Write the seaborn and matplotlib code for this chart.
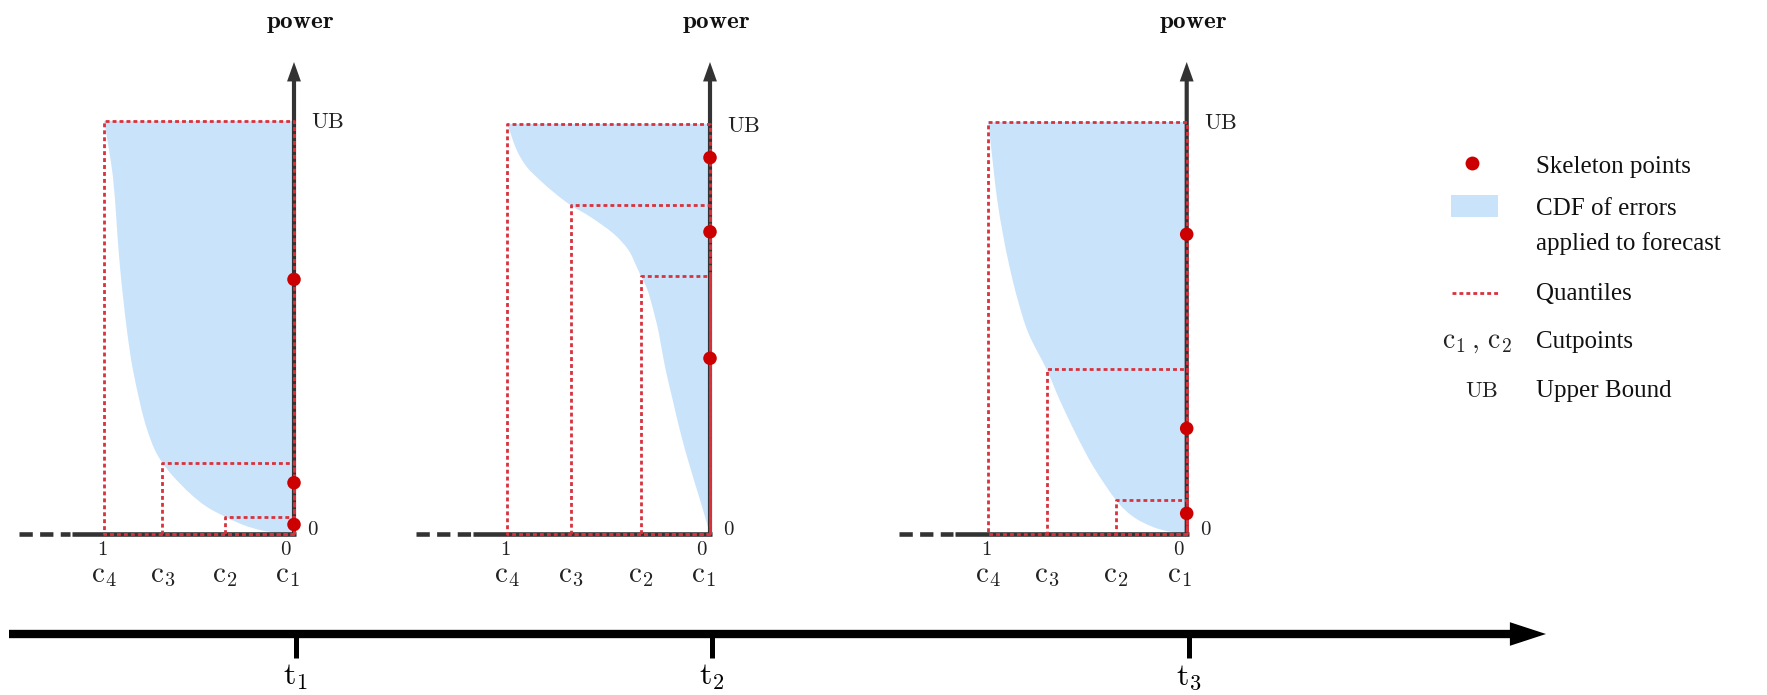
import numpy as np
import pandas as pd
import seaborn as sns
import matplotlib
matplotlib.use("Agg")
import matplotlib.pyplot as plt
from matplotlib.patches import FancyArrowPatch, ArrowStyle, Rectangle, PathPatch
from matplotlib.path import Path
from matplotlib.lines import Line2D
import matplotlib.transforms as mtransforms

sns.set_theme(style="white")
plt.rcParams["font.family"] = ["Liberation Serif", "DejaVu Serif"]
plt.rcParams["mathtext.fontset"] = "cm"

# ---------------- data ----------------
TIME_LABELS = [r"$\mathrm{t}_1$", r"$\mathrm{t}_2$", r"$\mathrm{t}_3$"]
CUT_LABELS = [r"$\mathrm{c}_1$", r"$\mathrm{c}_2$", r"$\mathrm{c}_3$", r"$\mathrm{c}_4$"]

# cutpoint probabilities (c1..c4) and the power level of each quantile
CUT_P1 = [0.0, 0.363, 0.693, 1.0]
CUT_P2 = [0.0, 0.342, 0.687, 1.0]
CUT_P3 = [0.0, 0.356, 0.706, 1.0]
QLEVEL1 = [0.0, 0.042, 0.1725, 1.0]
QLEVEL2 = [0.0, 0.630, 0.802, 1.0]
QLEVEL3 = [0.0, 0.0825, 0.399, 1.0]

# skeleton points (power, as fraction of UB)
SKEL1 = [0.616, 0.124, 0.023]
SKEL2 = [0.918, 0.737, 0.4285]
SKEL3 = [0.727, 0.256, 0.050]

# CDF of errors applied to forecast (probability vs power)
CURVE1_P = [1.0, 0.96, 0.942, 0.93, 0.916, 0.898, 0.877, 0.851, 0.814, 0.793, 0.767,
            0.732, 0.693, 0.635, 0.547, 0.46, 0.363, 0.267, 0.179, 0.074, 0.0]
CURVE1_LEVEL = [1.0, 0.889, 0.808, 0.727, 0.647, 0.566, 0.485, 0.405, 0.324, 0.284, 0.244,
                0.203, 0.1726, 0.139, 0.098, 0.066, 0.042, 0.022, 0.0097, 0.0016, 0.0]
CURVE2_P = [1.0, 0.954, 0.905, 0.839, 0.765, 0.6875, 0.592, 0.477, 0.403, 0.362, 0.342,
            0.312, 0.290, 0.270, 0.252, 0.222, 0.184, 0.145, 0.099, 0.049, 0.020, 0.0]
CURVE2_LEVEL = [1.0, 0.937, 0.896, 0.863, 0.831, 0.802, 0.774, 0.733, 0.693, 0.652, 0.630,
                0.600, 0.565, 0.527, 0.489, 0.408, 0.327, 0.246, 0.164, 0.083, 0.034, 0.0]
CURVE3_P = [1.0, 0.975, 0.955, 0.927, 0.893, 0.851, 0.797, 0.706, 0.640, 0.560, 0.470,
            0.356, 0.270, 0.175, 0.090, 0.0]
CURVE3_LEVEL = [1.0, 0.891, 0.810, 0.729, 0.648, 0.567, 0.486, 0.399, 0.325, 0.244, 0.163,
                0.082, 0.042, 0.018, 0.006, 0.0]

PANELS = [
    dict(cut=CUT_P1, qlev=QLEVEL1, skel=SKEL1, cp=CURVE1_P, cl=CURVE1_LEVEL),
    dict(cut=CUT_P2, qlev=QLEVEL2, skel=SKEL2, cp=CURVE2_P, cl=CURVE2_LEVEL),
    dict(cut=CUT_P3, qlev=QLEVEL3, skel=SKEL3, cp=CURVE3_P, cl=CURVE3_LEVEL),
]

# ---------------- layout / style ----------------
W, H = 1767, 695
PANEL_LEFT_PX = [104, 507.3, 988.3]
PANEL_AXIS_PX = [294, 710, 1186.7]
PANEL_UB_PX = [120.7, 124, 121.7]
BASE_PX = 534
ARROW_TOP_PX = 62

BLUE = "#c9e3fb"
RED = "#d8323c"
DOT_RED = "#cc0000"
AXIS = "#333333"
QLW = 2.0
QDASH = (1.4, 1.1)
LABEL = "#222222"


def fx(px):
    return px / W


def fy(py):
    return 1 - py / H


def smooth_band_path(p, lev, sx, sy):
    """Band between the CDF curve and the power axis, the curve drawn as
    Bezier segments through the read points (Catmull-Rom tangents)."""
    pts = np.column_stack([np.asarray(p) * sx, np.asarray(lev) * sy])
    n = len(pts)
    verts = [pts[0]]
    codes = [Path.MOVETO]
    for i in range(n - 1):
        p0 = pts[i - 1] if i > 0 else pts[i]
        p1 = pts[i]
        p2 = pts[i + 1]
        p3 = pts[i + 2] if i + 2 < n else pts[i + 1]
        c1 = p1 + (p2 - p0) / 6.0
        c2 = p2 - (p3 - p1) / 6.0
        verts += [c1, c2, p2]
        codes += [Path.CURVE4] * 3
    verts += [np.array([0.0, sy]), pts[0]]
    codes += [Path.LINETO, Path.CLOSEPOLY]
    verts = np.array(verts)
    verts[:, 0] /= sx
    verts[:, 1] /= sy
    return Path(verts, codes)


fig = plt.figure(figsize=(W / 100, H / 100), dpi=100)

for i, pan in enumerate(PANELS):
    left, right, ub = PANEL_LEFT_PX[i], PANEL_AXIS_PX[i], PANEL_UB_PX[i]
    ax = fig.add_axes([fx(left), fy(BASE_PX), (right - left) / W, (BASE_PX - ub) / H])
    ax.set_axis_off()
    hpx = BASE_PX - ub
    wpx = right - left

    # CDF band
    band = PathPatch(smooth_band_path(pan["cp"], pan["cl"], wpx, hpx), facecolor=BLUE,
                     edgecolor="none", lw=0, zorder=1)
    ax.add_patch(band)

    # horizontal probability axis: solid then dashed continuation
    ax.plot([-2.0 / wpx, 1.17], [0, 0], color=AXIS, lw=3.3, solid_capstyle="butt",
            clip_on=False, zorder=2)
    ax.plot([1.45, 1.18], [0, 0], color=AXIS, lw=3.3, dashes=(2.9, 1.6),
            dash_capstyle="butt", clip_on=False, zorder=2)

    # vertical power axis with arrow
    top = (BASE_PX - ARROW_TOP_PX) / hpx
    arr = FancyArrowPatch((0, -2.0 / hpx), (0, top),
                          arrowstyle=ArrowStyle.Simple(head_length=14, head_width=10, tail_width=3.0),
                          mutation_scale=1, shrinkA=0, shrinkB=0, color=AXIS, lw=0,
                          transform=ax.transData, clip_on=False, zorder=2)
    ax.add_patch(arr)

    # quantile boxes
    for c, lv in zip(pan["cut"][1:], pan["qlev"][1:]):
        ax.plot([0, c, c, 0, 0], [0, 0, lv, lv, 0], color=RED, lw=QLW, dashes=QDASH,
                dash_capstyle="butt", clip_on=False, zorder=3)

    # skeleton points
    sk = pd.DataFrame({"p": [0.0] * len(pan["skel"]), "power": pan["skel"]})
    sns.scatterplot(data=sk, x="p", y="power", ax=ax, color=DOT_RED, s=95,
                    edgecolor="none", linewidth=0, zorder=4, clip_on=False, legend=False)

    # labels
    ax.annotate(r"$\mathrm{UB}$", xy=(0, 1), xytext=(17, -7.5), textcoords="offset pixels",
                ha="left", va="baseline", fontsize=16, color=LABEL)
    ax.annotate(r"$0$", xy=(0, 0), xytext=(19, -1), textcoords="offset pixels",
                ha="center", va="baseline", fontsize=15, color=LABEL)
    ax.annotate(r"$1$", xy=(1, 0), xytext=(-2, -21), textcoords="offset pixels",
                ha="center", va="baseline", fontsize=15, color=LABEL)
    ax.annotate(r"$0$", xy=(0, 0), xytext=(-8, -21), textcoords="offset pixels",
                ha="center", va="baseline", fontsize=15, color=LABEL)
    for k, (c, lab) in enumerate(zip(pan["cut"], CUT_LABELS)):
        dx = -7 if k == 0 else 0
        ax.annotate(lab, xy=(c, 0), xytext=(dx, -48), textcoords="offset pixels",
                    ha="center", va="baseline", fontsize=21, color=LABEL)
    ax.annotate(r"$\mathbf{power}$", xy=(0, 1), xytext=(6, ub - 28), textcoords="offset pixels",
                ha="center", va="baseline", fontsize=18, color="#111111")

    # time-axis tick and label aligned with the panel's power axis
    blend = mtransforms.blended_transform_factory(ax.transData, fig.transFigure)
    ax.plot([-2.0 / wpx, -2.0 / wpx], [fy(634), fy(658)], color="black", lw=3.6,
            solid_capstyle="butt", transform=blend, clip_on=False)
    ax.text(-2.0 / wpx, fy(685), TIME_LABELS[i], transform=blend, ha="center",
            va="baseline", fontsize=23, color="black")

    ax.set_xlim(1, 0)
    ax.set_ylim(0, 1)

# time axis arrow
tarr = FancyArrowPatch((fx(9), fy(634)), (fx(1546), fy(634)),
                       arrowstyle=ArrowStyle.Simple(head_length=26, head_width=17, tail_width=6.0),
                       mutation_scale=1, shrinkA=0, shrinkB=0, color="black", lw=0,
                       transform=fig.transFigure)
fig.add_artist(tarr)

# legend
LEG_TXT = 18
LEG_COL = "#111111"
fig.add_artist(Line2D([fx(1471.7)], [fy(163.3)], marker="o", ms=10, color=DOT_RED,
                      mec="none", transform=fig.transFigure))
fig.text(fx(1536), fy(173), "Skeleton points", fontsize=LEG_TXT, va="baseline", color=LEG_COL)
fig.add_artist(Rectangle((fx(1451), fy(217)), (1497.7 - 1451) / W, (217 - 195) / H,
                         transform=fig.transFigure, color=BLUE, lw=0))
fig.text(fx(1536), fy(215), "CDF of errors", fontsize=LEG_TXT, va="baseline", color=LEG_COL)
fig.text(fx(1536), fy(250), "applied to forecast", fontsize=LEG_TXT, va="baseline", color=LEG_COL)
fig.add_artist(Line2D([fx(1451.7), fx(1498)], [fy(292.7), fy(292.7)], color=RED, lw=QLW,
                      dashes=QDASH, dash_capstyle="butt", transform=fig.transFigure))
fig.text(fx(1536), fy(300), "Quantiles", fontsize=LEG_TXT, va="baseline", color=LEG_COL)
fig.text(fx(1476.7), fy(348), r"$\mathrm{c}_1\,,\,\mathrm{c}_2$", fontsize=20, ha="center",
         va="baseline", color=LABEL)
fig.text(fx(1536), fy(348), "Cutpoints", fontsize=LEG_TXT, va="baseline", color=LEG_COL)
fig.text(fx(1481.7), fy(397), r"$\mathrm{UB}$", fontsize=16, ha="center", va="baseline",
         color=LABEL)
fig.text(fx(1536), fy(397), "Upper Bound", fontsize=LEG_TXT, va="baseline", color=LEG_COL)

fig.savefig("out.png", dpi=100, facecolor="white")
